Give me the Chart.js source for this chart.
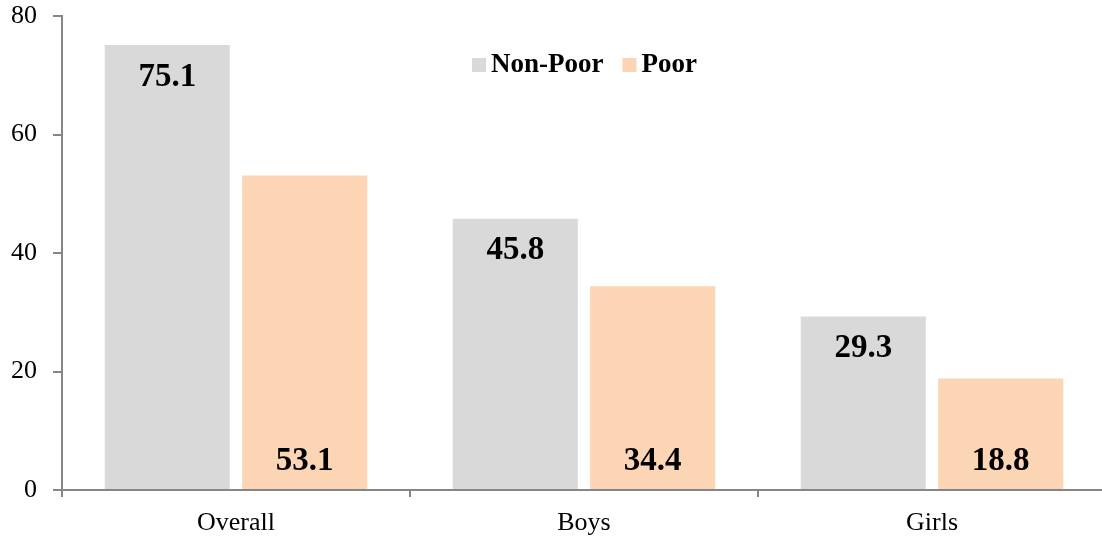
<!DOCTYPE html>
<html>
<head>
<meta charset="utf-8">
<script src="https://cdn.jsdelivr.net/npm/chart.js@4/dist/chart.umd.min.js"></script>
<style>
  html, body { margin: 0; padding: 0; background: #fff; overflow: hidden; }
  #wrap { width: 1106px; height: 539px; }
</style>
</head>
<body>
<div id="wrap"><canvas id="chart"></canvas></div>
<script>
// Data
const categories = ['Overall', 'Boys', 'Girls'];
const nonPoorValues = [75.1, 45.8, 29.3];
const poorValues = [53.1, 34.4, 18.8];
const yTicks = [0, 20, 40, 60, 80];

const FONT = '"Liberation Serif", "Times New Roman", serif';
const AXIS_COLOR = '#868686';

// Draws value labels: Non-Poor at the top of the bar, Poor at the bottom
const valueLabels = {
    id: 'valueLabels',
    afterDatasetsDraw(chart) {
        const ctx = chart.ctx;
        ctx.save();
        ctx.font = 'bold 33px ' + FONT;
        ctx.fillStyle = '#000';
        ctx.textAlign = 'center';
        ctx.textBaseline = 'middle';
        chart.data.datasets.forEach((ds, i) => {
            chart.getDatasetMeta(i).data.forEach((bar, j) => {
                const text = ds.data[j].toFixed(1);
                const y = i === 0 ? bar.y + 32 : bar.base - 28;
                ctx.fillText(text, bar.x, y);
            });
        });
        ctx.restore();
    }
};

// Legend drawn inside the plot area, near the top centre
const innerLegend = {
    id: 'innerLegend',
    afterDraw(chart) {
        const ctx = chart.ctx;
        ctx.save();
        ctx.font = 'bold 27px ' + FONT;
        ctx.textBaseline = 'middle';
        let x = 472;
        const y = 65;
        chart.data.datasets.forEach(ds => {
            ctx.fillStyle = ds.backgroundColor;
            ctx.fillRect(x, y - 7, 14, 14);
            ctx.fillStyle = '#000';
            ctx.fillText(ds.label, x + 19, y);
            x += 19 + ctx.measureText(ds.label).width + 19;
        });
        ctx.restore();
    }
};

new Chart(document.getElementById('chart'), {
    type: 'bar',
    data: {
        labels: categories,
        datasets: [
            {
                label: 'Non-Poor',
                data: nonPoorValues,
                backgroundColor: '#D9D9D9',
                categoryPercentage: 0.79,
                barPercentage: 0.91
            },
            {
                label: 'Poor',
                data: poorValues,
                backgroundColor: '#FCD5B5',
                categoryPercentage: 0.79,
                barPercentage: 0.91
            }
        ]
    },
    options: {
        responsive: true,
        maintainAspectRatio: false,
        animation: false,
        layout: { padding: { top: 16, right: 0, bottom: 0, left: 0 } },
        plugins: {
            legend: { display: false },
            tooltip: { enabled: false }
        },
        scales: {
            x: {
                grid: {
                    display: true,
                    drawOnChartArea: false,
                    drawTicks: true,
                    tickLength: 7,
                    color: AXIS_COLOR,
                    lineWidth: 2
                },
                border: { color: AXIS_COLOR, width: 2 },
                ticks: {
                    color: '#000',
                    padding: 11,
                    font: { family: FONT, size: 26 }
                },
                afterFit(scale) {
                    scale.height = 49;
                    scale.paddingLeft = 0;
                    scale.paddingRight = 0;
                }
            },
            y: {
                min: 0,
                max: 80,
                afterBuildTicks(scale) {
                    scale.ticks = yTicks.map(v => ({ value: v }));
                },
                grid: {
                    display: true,
                    drawOnChartArea: false,
                    drawTicks: true,
                    tickLength: 9,
                    color: AXIS_COLOR,
                    lineWidth: 2
                },
                border: { color: AXIS_COLOR, width: 2 },
                ticks: {
                    color: '#000',
                    padding: 16,
                    font: { family: FONT, size: 26 }
                },
                afterFit(scale) {
                    scale.width = 62;
                    scale.paddingTop = 0;
                    scale.paddingBottom = 0;
                }
            }
        }
    },
    plugins: [valueLabels, innerLegend]
});
</script>
</body>
</html>
